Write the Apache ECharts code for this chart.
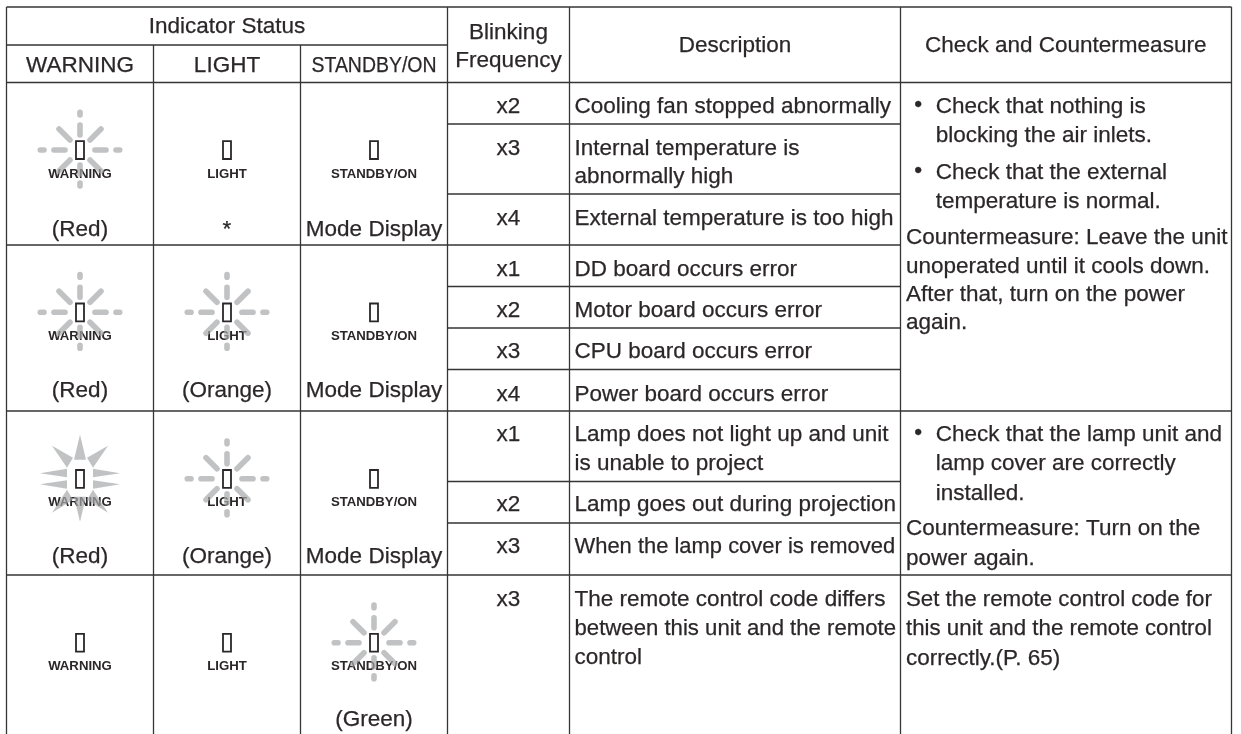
<!DOCTYPE html>
<html>
<head>
<meta charset="utf-8">
<style>html,body{margin:0;padding:0;background:#fff}#c{width:1241px;height:734px}</style>
<script src="https://cdn.jsdelivr.net/npm/echarts@6/dist/echarts.min.js"></script>
</head>
<body>
<div id="c"></div>
<script>
// ---------- table content ----------
const topHeader = 'Indicator Status';
const indicatorNames = ['WARNING', 'LIGHT', 'STANDBY/ON'];
const blinkingHeader = ['Blinking', 'Frequency'];
const descriptionHeader = 'Description';
const checkHeader = 'Check and Countermeasure';
const warningStatus = ['(Red)', '(Red)', '(Red)', ''];
const lightStatus = ['*', '(Orange)', '(Orange)', ''];
const standbyStatus = ['Mode Display', 'Mode Display', 'Mode Display', '(Green)'];
const warningState = ['dash', 'dash', 'star', 'off'];
const lightState = ['off', 'dash', 'dash', 'off'];
const standbyState = ['off', 'off', 'off', 'dash'];
const frequencies = ['x2', 'x3', 'x4', 'x1', 'x2', 'x3', 'x4', 'x1', 'x2', 'x3', 'x3'];
const descriptions = [
  'Cooling fan stopped abnormally', 'Internal temperature is', 'abnormally high',
  'External temperature is too high', 'DD board occurs error', 'Motor board occurs error',
  'CPU board occurs error', 'Power board occurs error', 'Lamp does not light up and unit',
  'is unable to project', 'Lamp goes out during projection', 'When the lamp cover is removed',
  'The remote control code differs', 'between this unit and the remote', 'control'
];
const bulletLines = [
  'Check that nothing is', 'blocking the air inlets.', 'Check that the external', 'temperature is normal.',
  'Check that the lamp unit and', 'lamp cover are correctly', 'installed.'
];
const plainLines = [
  'Countermeasure: Leave the unit', 'unoperated until it cools down.', 'After that, turn on the power', 'again.',
  'Countermeasure: Turn on the', 'power again.',
  'Set the remote control code for', 'this unit and the remote control', 'correctly.(P. 65)'
];

// ---------- layout (separate from content) ----------
const COL = [6.5, 153.5, 300.5, 447.5, 569.5, 900.5, 1231.5];
const FULL_ROW = [7, 82.5, 411, 575];
const STATUS_LINE = [45];
const PARTIAL_ROW = [124, 194, 286.5, 328, 369.5, 481.5, 523];
const DESC_END_ROW = [245];
const BOTTOM = 734;
const CENTER = [80, 227, 374];
const FREQ_X = 508.5, DESC_X = 574.5, DESC_CX = 735, CHECK_CX = 1065.7;
const BULLET_X = 918.3, BULLET_TEXT_X = 935.7, PLAIN_X = 906;
const FREQ_Y = [114.3, 156, 226, 276.7, 318.3, 359.3, 401.7, 442.3, 512.3, 554, 606.7];
const DESC_Y = [114.3, 156, 184.6, 226, 276.7, 318.3, 359.3, 401.7, 442.3, 471.5, 512.3, 554, 606.7, 635.7, 664.7];
const DESC_SQUEEZE = {11: 0.975, 13: 0.985};
const BULLET_Y = [114.3, 142.7, 180, 209, 442.3, 471.3, 500.7];
const BULLET_MARK_Y = [114.3, 180, 442.3];
const PLAIN_Y = [245, 274, 302, 330, 536.3, 565.7, 606.7, 635.7, 665.7];
const PLAIN_SQUEEZE = {6: 0.99, 7: 0.99};
const STATUS_Y = [236.7, 398.3, 564, 727.3];
const LAMP_Y = [150, 312.3, 478.8, 642.7];
const FS = 22.5, SMALL_FS = 13.2;
const TEXT_COLOR = '#2b2728', LINE_COLOR = '#353535';

// ---------- derived mark lists ----------
const segments = [];
FULL_ROW.forEach(y => segments.push([COL[0], y, COL[6], y]));
STATUS_LINE.forEach(y => segments.push([COL[0], y, COL[3], y]));
PARTIAL_ROW.forEach(y => segments.push([COL[3], y, COL[5], y]));
DESC_END_ROW.forEach(y => segments.push([COL[0], y, COL[5], y]));
COL.forEach((x, i) => segments.push([x, (i === 1 || i === 2) ? STATUS_LINE[0] : FULL_ROW[0], x, BOTTOM]));

const texts = [];
const put = (x, y, text, align, opt) => { if (text) texts.push(Object.assign({x, y, text, align}, opt || {})); };
put(CENTER[1], 34.5, topHeader, 'center');
indicatorNames.forEach((t, i) => put(CENTER[i], 72.7, t, 'center', i === 2 ? {sx: 0.865} : null));
put(FREQ_X, 40, blinkingHeader[0], 'center');
put(FREQ_X, 68.3, blinkingHeader[1], 'center');
put(DESC_CX, 53.3, descriptionHeader, 'center');
put(CHECK_CX, 53.3, checkHeader, 'center');
[warningStatus, lightStatus, standbyStatus].forEach((col, c) =>
  col.forEach((t, r) => put(CENTER[c], STATUS_Y[r], t, 'center')));
frequencies.forEach((t, i) => put(FREQ_X, FREQ_Y[i], t, 'center'));
descriptions.forEach((t, i) => put(DESC_X, DESC_Y[i], t, 'left', {sx: DESC_SQUEEZE[i]}));
bulletLines.forEach((t, i) => put(BULLET_TEXT_X, BULLET_Y[i], t, 'left'));
BULLET_MARK_Y.forEach(y => put(BULLET_X, y - 1.8, '\u2022', 'center'));
plainLines.forEach((t, i) => put(PLAIN_X, PLAIN_Y[i], t, 'left', {sx: PLAIN_SQUEEZE[i]}));

const lamps = [];
[warningState, lightState, standbyState].forEach((col, c) =>
  col.forEach((state, r) => lamps.push({x: CENTER[c], y: LAMP_Y[r], state, name: indicatorNames[c]})));

// ray shapes, relative to lamp centre
const DASH_RAYS = [
  [0,-37.7,0,-35],[0,-25,0,-15],[0,15,0,24],[0,33,0,36],
  [-39.7,0,-36,0],[-26,0,-15,0],[15,0,26,0],[36,0,39.7,0],
  [-21,-21,-10,-10],[21,-21,10,-10],[-21,21,-10,10],[21,21,10,10]
];
const STAR_RAYS = [
  [[0,-44],[-6,-19],[6,-19]], [[0,43],[-6,18],[6,18]],
  [[-28,-33],[-13,-11],[-7,-21]], [[28,-33],[13,-11],[7,-21]],
  [[-28,34],[-13,11],[-7,21]], [[28,34],[13,11],[7,21]],
  [[-40,-5.5],[-13,-10],[-13,-1.5]], [[-40,5.5],[-13,1.5],[-13,10]],
  [[40,-5.5],[13,-10],[13,-1.5]], [[40,5.5],[13,1.5],[13,10]]
];
const RAY_FILL = 'rgba(166,168,170,0.7)';

function textEl(x, y, text, align, size, weight, sx) {
  return {
    type: 'text', x, y: y - 0.325 * size,
    scaleX: sx || 1,
    style: {text, x: 0, y: 0, align, verticalAlign: 'middle', fill: TEXT_COLOR,
      stroke: TEXT_COLOR, lineWidth: weight === 'bold' ? 0 : 0.25,
      fontFamily: '"Liberation Sans", Arial, sans-serif', fontSize: size, fontWeight: weight || 'normal'}
  };
}

const chart = echarts.init(document.getElementById('c'), null, {renderer: 'canvas'});
chart.setOption({
  animation: false,
  backgroundColor: '#ffffff',
  grid: {left: 0, right: 0, top: 0, bottom: 0},
  xAxis: {type: 'value', min: 0, max: 1241, show: false},
  yAxis: {type: 'value', min: 0, max: 734, inverse: true, show: false},
  series: [
    {
      name: 'rules', type: 'custom', coordinateSystem: 'cartesian2d', silent: true, z: 1,
      encode: {x: [0, 2], y: [1, 3]},
      data: segments,
      renderItem(p, api) {
        const a = api.coord([api.value(0), api.value(1)]);
        const b = api.coord([api.value(2), api.value(3)]);
        return {type: 'line', shape: {x1: a[0], y1: a[1], x2: b[0], y2: b[1]},
          style: {stroke: LINE_COLOR, lineWidth: 1.3}};
      }
    },
    {
      name: 'lamp labels', type: 'custom', coordinateSystem: 'cartesian2d', silent: true, z: 2,
      encode: {x: 0, y: 1},
      data: lamps.map(l => [l.x, l.y]),
      renderItem(p, api) {
        const c = api.coord([api.value(0), api.value(1)]);
        return textEl(c[0], c[1] + 28.3, lamps[p.dataIndex].name, 'center', SMALL_FS, 'bold');
      }
    },
    {
      name: 'rays', type: 'custom', coordinateSystem: 'cartesian2d', silent: true, z: 3,
      encode: {x: 0, y: 1},
      data: lamps.map(l => [l.x, l.y]),
      renderItem(p, api) {
        const c = api.coord([api.value(0), api.value(1)]);
        const st = lamps[p.dataIndex].state;
        const children = [];
        if (st === 'dash') DASH_RAYS.forEach(r => children.push({
          type: 'line', shape: {x1: c[0] + r[0], y1: c[1] + r[1], x2: c[0] + r[2], y2: c[1] + r[3]},
          style: {stroke: RAY_FILL, lineWidth: 5.6, lineCap: 'round'}}));
        if (st === 'star') STAR_RAYS.forEach(t => children.push({
          type: 'polygon', shape: {points: t.map(q => [c[0] + q[0], c[1] + q[1]])},
          style: {fill: RAY_FILL}}));
        return {type: 'group', children};
      }
    },
    {
      name: 'lamps', type: 'custom', coordinateSystem: 'cartesian2d', silent: true, z: 4,
      encode: {x: 0, y: 1},
      data: lamps.map(l => [l.x, l.y]),
      renderItem(p, api) {
        const c = api.coord([api.value(0), api.value(1)]);
        return {type: 'rect', shape: {x: c[0] - 4, y: c[1] - 8.8, width: 8, height: 17.8},
          style: {fill: 'rgba(255,255,255,0)', stroke: '#2b2728', lineWidth: 1.8}};
      }
    },
    {
      name: 'text', type: 'custom', coordinateSystem: 'cartesian2d', silent: true, z: 5,
      encode: {x: 0, y: 1},
      data: texts.map(t => [t.x, t.y]),
      renderItem(p, api) {
        const c = api.coord([api.value(0), api.value(1)]);
        const t = texts[p.dataIndex];
        return textEl(c[0], c[1], t.text, t.align, FS, 'normal', t.sx);
      }
    }
  ]
});
</script>
</body>
</html>
